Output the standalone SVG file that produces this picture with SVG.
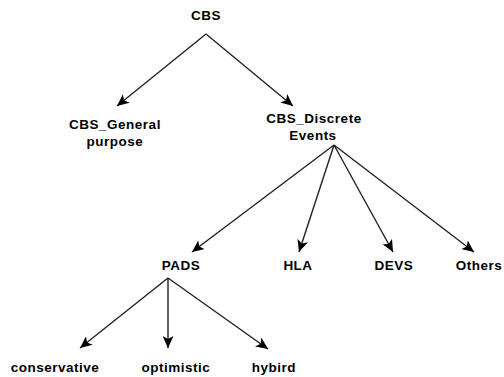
<svg xmlns="http://www.w3.org/2000/svg" width="504" height="377" viewBox="0 0 504 377">
<style>
.t{font-family:"Liberation Sans",Arial,sans-serif;font-weight:bold;font-size:13.5px;letter-spacing:0.5px;fill:#000;text-anchor:middle}
.c{stroke:#222;stroke-width:1.4;fill:none}
</style>
<defs>
<marker id="ah" markerUnits="userSpaceOnUse" markerWidth="13" markerHeight="11" viewBox="0 0 13 11" refX="12" refY="5.5" orient="auto">
<path d="M0,0 L12,5.5 L0,11 L3,5.5 Z" fill="#000"/>
</marker>
</defs>
<rect width="504" height="377" fill="#fff"/>
<g id="connectors">
<line class="c" x1="206" y1="34" x2="117" y2="106" marker-end="url(#ah)"/>
<line class="c" x1="206" y1="34" x2="293" y2="106" marker-end="url(#ah)"/>
<line class="c" x1="334" y1="145" x2="192" y2="252" marker-end="url(#ah)"/>
<line class="c" x1="334" y1="145" x2="299" y2="252" marker-end="url(#ah)"/>
<line class="c" x1="334" y1="145" x2="393" y2="252" marker-end="url(#ah)"/>
<line class="c" x1="334" y1="145" x2="474" y2="252" marker-end="url(#ah)"/>
<line class="c" x1="168" y1="278" x2="80" y2="348" marker-end="url(#ah)"/>
<line class="c" x1="168" y1="278" x2="168" y2="348" marker-end="url(#ah)"/>
<line class="c" x1="168" y1="278" x2="268" y2="349" marker-end="url(#ah)"/>
</g>
<g id="cbs"><text class="t" x="206" y="20">CBS</text></g>
<g id="general"><text class="t" x="115" y="129">CBS_General</text><text class="t" x="115" y="146">purpose</text></g>
<g id="discrete"><text class="t" x="314" y="123">CBS_Discrete</text><text class="t" x="313" y="140">Events</text></g>
<g id="pads"><text class="t" x="181" y="270">PADS</text></g>
<g id="hla"><text class="t" x="298" y="270">HLA</text></g>
<g id="devs"><text class="t" x="394" y="270">DEVS</text></g>
<g id="others"><text class="t" x="479" y="270">Others</text></g>
<g id="conservative"><text class="t" x="55" y="372">conservative</text></g>
<g id="optimistic"><text class="t" x="176" y="372">optimistic</text></g>
<g id="hybird"><text class="t" x="274" y="372">hybird</text></g>
</svg>
